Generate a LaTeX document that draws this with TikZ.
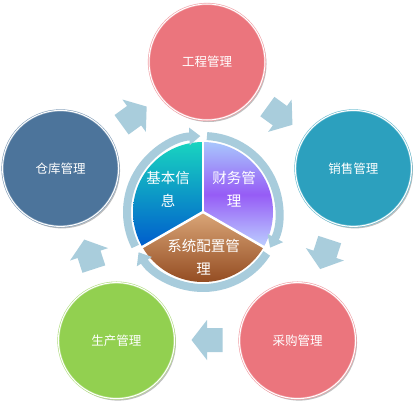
\documentclass[tikz,border=0pt]{standalone}
\usepackage{fontspec}
\newfontfamily\cjk{Noto Sans CJK SC}
\usetikzlibrary{arrows.meta,calc,shadows}
\definecolor{cpink}{RGB}{235,117,125}
\definecolor{cteal}{RGB}{44,160,190}
\definecolor{cgreen}{RGB}{146,208,80}
\definecolor{csteel}{RGB}{76,116,155}
\definecolor{arblue}{RGB}{169,205,220}
\definecolor{ringblue}{RGB}{168,204,220}
\begin{document}
\begin{tikzpicture}[x=1pt,y=1pt,
  mod/.style={circle, minimum size=116pt, inner sep=0pt, fill=#1, draw=#1!70!white,
    double=white, double distance=1pt, line width=.6pt, text=white,
    font=\cjk\fontsize{12.5}{15}\selectfont,
    drop shadow={shadow xshift=1.5pt, shadow yshift=-2pt, opacity=.25, fill=black}},
  blkarrow/.pic={\fill[arblue] (-15.5,-12) -- (0,-12) -- (0,-20) -- (15.5,0) -- (0,20) -- (0,12) -- (-15.5,12) -- cycle;},
  ringarc/.style={draw=ringblue, line width=8pt, -{Triangle[width=17pt,length=11pt]}},
  sep/.style={white, line width=2.5pt},
  lbl/.style={text=white, font=\cjk\fontsize{14.5}{23}\selectfont, align=center, inner sep=0pt}
]
\useasboundingbox[fill=white] (0,0) rectangle (419,405);
\coordinate (O) at (207,189);
\coordinate (C) at (203,193);

% outer modules
\node[mod=cpink]  (gc) at ($(O)+(90:154)$)   {工程管理};
\node[mod=cteal]  (xs) at ($(O)+(18:154)$)   {销售管理};
\node[mod=cpink]  (cg) at ($(O)+(-54:154)$)  {采购管理};
\node[mod=cgreen] (sc) at ($(O)+(-126:154)$) {生产管理};
\node[mod=csteel] (ck) at ($(O)+(162:154)$)  {仓库管理};

% block arrows
\pic[rotate=36]   at ($(O)+(126:124)$) {blkarrow};
\pic[rotate=-36]  at ($(O)+(54:124)$)  {blkarrow};
\pic[rotate=-108] at ($(O)+(-18:124)$) {blkarrow};
\pic[rotate=180]  at ($(O)+(-90:124)$) {blkarrow};
\pic[rotate=108]  at ($(O)+(198:124)$) {blkarrow};

% centre sectors
\shade[top color={rgb,255:red,25;green,212;blue,192}, bottom color={rgb,255:red,0;green,92;blue,205}]
  (C) -- ++(90:70) arc[start angle=90, end angle=210, radius=70] -- cycle;
\shade[top color={rgb,255:red,168;green,198;blue,252}, bottom color={rgb,255:red,188;green,208;blue,255},
  middle color={rgb,255:red,150;green,92;blue,246}]
  (C) -- ++(90:70) arc[start angle=90, end angle=-30, radius=70] -- cycle;
\shade[top color={rgb,255:red,218;green,166;blue,120}, bottom color={rgb,255:red,138;green,64;blue,22}]
  (C) -- ++(210:70) arc[start angle=210, end angle=330, radius=70] -- cycle;
\draw[sep] (C) -- ++(90:71);
\draw[sep] (C) -- ++(210:71);
\draw[sep] (C) -- ++(-30:71);

% ring arrows
\draw[ringarc] ($(C)+(207:76)$) arc[start angle=207, end angle=92, radius=76];
\draw[ringarc] ($(C)+(87:76)$) arc[start angle=87, end angle=-28, radius=76];
\draw[ringarc] ($(C)+(-33:76)$) arc[start angle=-33, end angle=-148, radius=76];

% centre labels
\node[lbl] (l1) at (168,215.5) {基本信\\息};
\node[lbl] (l2) at (234,215.5) {财务管\\理};
\node[lbl] (l3) at (203.5,148) {系统配置管\\理};
\end{tikzpicture}
\end{document}
